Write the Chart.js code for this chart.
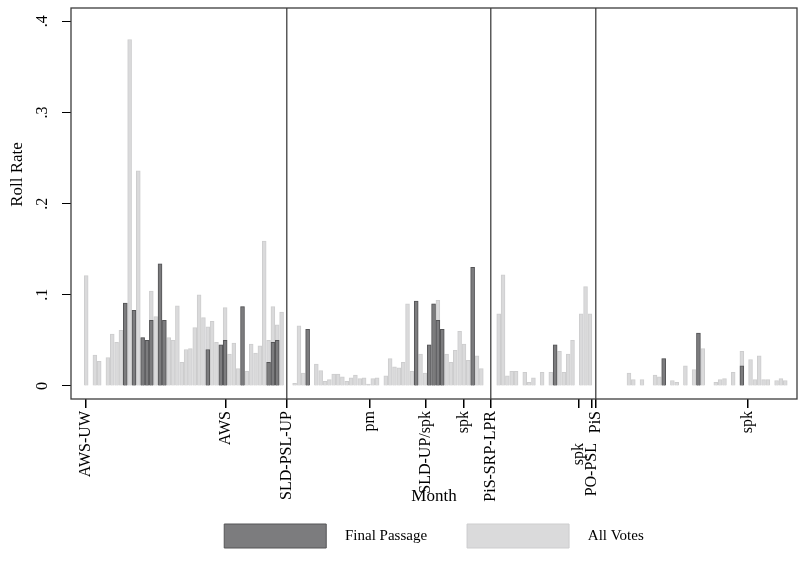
<!DOCTYPE html>
<html lang="en">
<head>
    <meta charset="UTF-8">
    <title>Roll Rate by Month</title>
    <script src="https://cdn.jsdelivr.net/npm/chart.js"></script>
    <style>
        body {
            margin: 0;
            padding: 0;
            background-color: #fff;
        }

        #chart-container {
            width: 798px;
            height: 576px;
        }
    </style>
</head>
<body>
<div id="chart-container">
    <canvas id="chart"></canvas>
</div>

<script>
    // months are numbered from the first month of the AWS-UW government (0..161), null = no votes
    const finalPassage = [
        null, null, null, null, null, null, null, null, null, 0.091,
        null, 0.083, null, 0.053, 0.050, 0.072, null, 0.134, 0.072, null,
        null, null, null, null, null, null, null, null, 0.040, null,
        null, 0.045, 0.050, null, null, null, 0.087, null, null, null,
        null, null, 0.026, 0.048, 0.050, null, null, null, null, null,
        null, 0.062, null, null, null, null, null, null, null, null,
        null, null, null, null, null, null, null, null, null, null,
        null, null, null, null, null, null, 0.093, null, null, 0.045,
        0.090, 0.072, 0.062, null, null, null, null, null, null, 0.130,
        null, null, null, null, null, null, null, null, null, null,
        null, null, null, null, null, null, null, null, 0.045, null,
        null, null, null, null, null, null, null, null, null, null,
        null, null, null, null, null, null, null, null, null, null,
        null, null, null, 0.030, null, null, null, null, null, null,
        null, 0.058, null, null, null, null, null, null, null, null,
        null, 0.022, null, null, null, null, null, null, null, null,
        null, null
    ];

    const allVotes = [
        0.121, null, 0.034, 0.027, null, 0.031, 0.057, 0.048, 0.061, 0.091,
        0.380, 0.083, 0.236, 0.053, 0.050, 0.104, 0.076, 0.134, 0.072, 0.053,
        0.050, 0.088, 0.026, 0.040, 0.041, 0.064, 0.100, 0.075, 0.065, 0.071,
        0.048, 0.045, 0.086, 0.035, 0.047, 0.019, 0.087, 0.016, 0.046, 0.036,
        0.044, 0.159, 0.050, 0.087, 0.067, 0.081, null, null, 0.003, 0.066,
        0.014, 0.062, null, 0.024, 0.017, 0.005, 0.007, 0.013, 0.013, 0.010,
        0.005, 0.009, 0.012, 0.008, 0.009, 0.002, 0.008, 0.009, null, 0.011,
        0.030, 0.021, 0.020, 0.026, 0.090, 0.016, 0.093, 0.035, 0.014, 0.045,
        0.090, 0.094, 0.062, 0.035, 0.026, 0.039, 0.060, 0.046, 0.028, 0.130,
        0.033, 0.019, null, null, null, 0.079, 0.122, 0.011, 0.016, 0.016,
        null, 0.015, 0.004, 0.009, null, 0.015, null, 0.015, 0.045, 0.038,
        0.015, 0.035, 0.050, null, 0.079, 0.109, 0.079, null, null, null,
        null, null, null, null, null, 0.014, 0.007, null, 0.007, null,
        null, 0.012, 0.010, 0.030, null, 0.006, 0.004, null, 0.022, null,
        0.018, 0.058, 0.041, null, null, 0.004, 0.007, 0.008, null, 0.015,
        null, 0.038, null, 0.029, 0.007, 0.033, 0.007, 0.007, null, 0.006,
        0.008, 0.006
    ];

    // government / speaker changes on the month axis
    const tickMonths = [0, 32.2, 46.2, 65.4, 78.2, 87.0, 93.2, 113.5, 116.4, 117.3, 152.4];
    const tickLabels = ['AWS-UW', 'AWS', 'SLD-PSL-UP', 'pm', 'SLD-UP/spk', 'spk', 'PiS-SRP-LPR',
        'spk        ', 'PO-PSL        ', 'PiS', 'spk'];
    const breakMonths = [46.2, 93.2, 117.3];

    const yTicks = [0, 0.1, 0.2, 0.3, 0.4];
    const yTickLabels = ['0', '.1', '.2', '.3', '.4'];
    const yTitle = 'Roll Rate';

    const serif = "'Liberation Serif', 'DejaVu Serif', serif";

    function toPoints(values) {
        return values.map((v, i) => ({x: i, y: v}));
    }

    // plot region outline and the y title (Stata puts it a bit above the middle)
    const framePlugin = {
        id: 'frame',
        afterDraw(chart) {
            const a = chart.chartArea;
            const ctx = chart.ctx;
            ctx.save();
            ctx.strokeStyle = '#3c3c3c';
            ctx.lineWidth = 1.3;
            ctx.strokeRect(a.left, a.top, a.right - a.left, a.bottom - a.top);

            ctx.translate(18, (a.top + a.bottom) / 2 - 29);
            ctx.rotate(-Math.PI / 2);
            ctx.fillStyle = '#000';
            ctx.font = "17px " + serif;
            ctx.textAlign = 'center';
            ctx.textBaseline = 'middle';
            ctx.fillText(yTitle, 0, 0);
            ctx.restore();
        }
    };

    new Chart(document.getElementById('chart').getContext('2d'), {
        type: 'bar',
        data: {
            datasets: [{
                label: 'Final Passage',
                data: toPoints(finalPassage),
                backgroundColor: '#7c7c7e',
                borderColor: '#555557',
                borderWidth: 1,
                grouped: false,
                barPercentage: 1,
                categoryPercentage: 1
            }, {
                label: 'All Votes',
                data: toPoints(allVotes),
                backgroundColor: '#dadadb',
                borderColor: '#cdcdce',
                borderWidth: 1,
                grouped: false,
                barPercentage: 1,
                categoryPercentage: 1
            }]
        },
        options: {
            responsive: true,
            maintainAspectRatio: false,
            animation: false,
            layout: {
                padding: {top: 8, right: 1, left: 0, bottom: 18}
            },
            plugins: {
                tooltip: {enabled: false},
                legend: {
                    position: 'bottom',
                    fullSize: false,
                    labels: {
                        boxWidth: 102,
                        boxHeight: 24,
                        padding: 10,
                        color: '#000',
                        font: {family: serif, size: 15},
                        // wider gaps, as in the Stata legend
                        generateLabels: chart => {
                            const items = Chart.defaults.plugins.legend.labels.generateLabels(chart);
                            items.forEach((item, i) => {
                                item.text = '   ' + item.text + (i === 0 ? '        ' : '');
                            });
                            return items;
                        }
                    }
                }
            },
            scales: {
                x: {
                    type: 'linear',
                    min: -3.5,
                    max: 163.7,
                    offset: false,
                    afterBuildTicks: scale => {
                        scale.ticks = tickMonths.map(v => ({value: v}));
                    },
                    afterFit: scale => {
                        scale.height = 115;
                        scale.paddingLeft = 0;
                        scale.paddingRight = 0;
                    },
                    ticks: {
                        autoSkip: false,
                        minRotation: 90,
                        maxRotation: 90,
                        padding: 3,
                        color: '#000',
                        font: {family: serif, size: 16},
                        callback: (value, index) => tickLabels[index]
                    },
                    grid: {
                        offset: false,
                        drawOnChartArea: true,
                        color: ctx => (ctx.tick && breakMonths.includes(ctx.tick.value)) ? '#5a5a5a' : 'rgba(0,0,0,0)',
                        lineWidth: 1.5,
                        tickColor: '#000',
                        tickLength: 9
                    },
                    border: {display: false},
                    title: {
                        display: true,
                        text: 'Month',
                        color: '#000',
                        font: {family: serif, size: 17},
                        padding: {top: 0, bottom: 7}
                    }
                },
                y: {
                    min: -0.0143,
                    max: 0.4146,
                    afterBuildTicks: scale => {
                        scale.ticks = yTicks.map(v => ({value: v}));
                    },
                    afterFit: scale => {
                        scale.width = 71;
                        scale.paddingTop = 0;
                        scale.paddingBottom = 0;
                    },
                    ticks: {
                        minRotation: 90,
                        maxRotation: 90,
                        crossAlign: 'center',
                        padding: 13,
                        color: '#000',
                        font: {family: serif, size: 16},
                        callback: (value, index) => yTickLabels[index]
                    },
                    grid: {
                        drawOnChartArea: false,
                        tickColor: '#000',
                        tickLength: 9
                    },
                    border: {display: false}
                }
            }
        },
        plugins: [framePlugin]
    });
</script>
</body>
</html>
